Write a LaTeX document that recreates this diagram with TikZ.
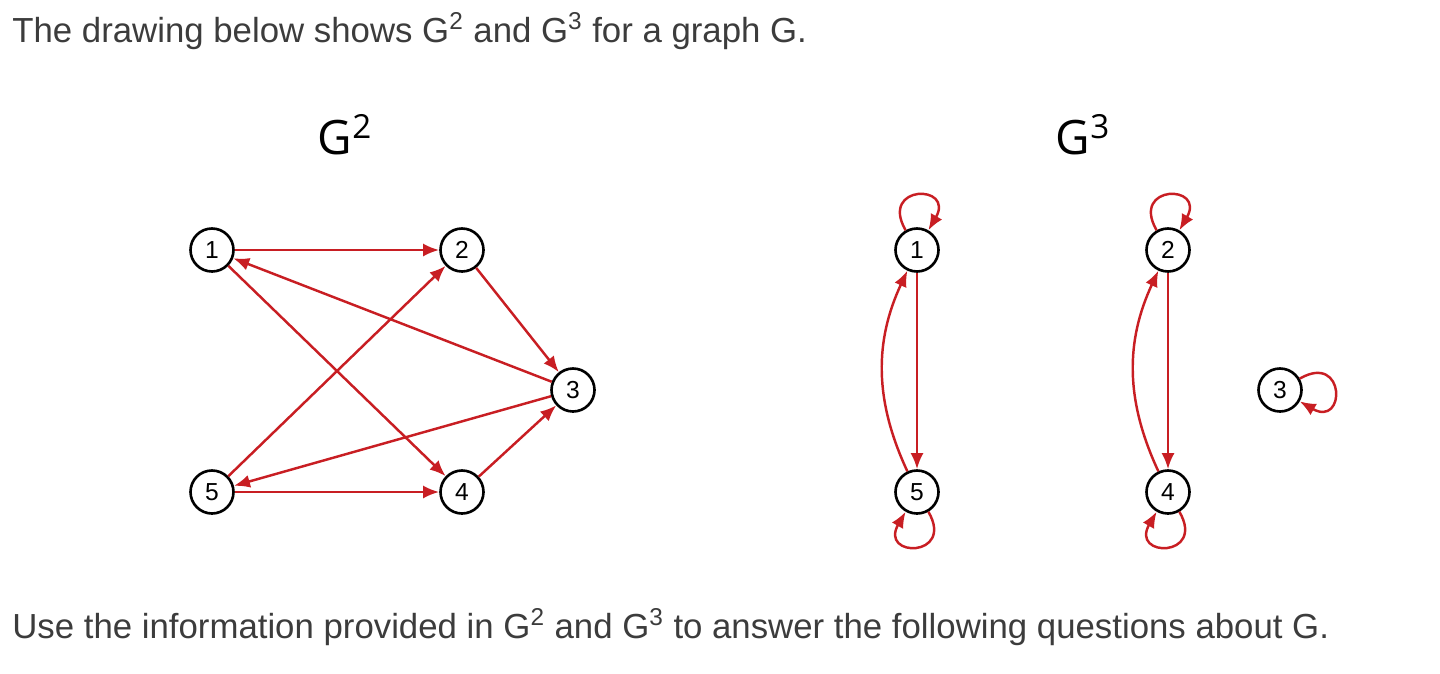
\documentclass[tikz,border=0pt]{standalone}
\usepackage{fontspec}
\setmainfont{Liberation Sans}
\newfontfamily\titlefont{Open Sans}
\usetikzlibrary{arrows.meta}
\definecolor{ered}{RGB}{200,30,35}
\definecolor{txt}{RGB}{60,60,60}
\tikzset{
 vert/.style={circle,draw=black,line width=1.5pt,minimum size=0.86cm,inner sep=0pt,font=\fontsize{14}{14}\selectfont,fill=white},
 edge/.style={ered,line width=1.4pt,-{Latex[length=3.2mm,width=2.6mm]}},
 title/.style={font=\titlefont\fontsize{27}{27}\selectfont,text=black},
 para/.style={anchor=west,font=\fontsize{19.8}{21}\selectfont,text=txt,inner sep=0pt}
}
\begin{document}
\begin{tikzpicture}[x=0.02cm,y=-0.02cm]
\useasboundingbox (0,0) rectangle (1440,673);
\node[para] (t1) at (12,31) {The drawing below shows G\textsuperscript{2} and G\textsuperscript{3} for a graph G.};
\node[para] (t2) at (12,627) {Use the information provided in G\textsuperscript{2} and G\textsuperscript{3} to answer the following questions about G.};
\node[title] (h2) at (345,135) {G\textsuperscript{2}};
\node[title] (h3) at (1083,135) {G\textsuperscript{3}};
% G^2
\node[vert] (a1) at (212,250) {1};
\node[vert] (a2) at (462,250) {2};
\node[vert] (a3) at (573,390) {3};
\node[vert] (a4) at (462,492) {4};
\node[vert] (a5) at (212,492) {5};
\draw[edge] (a1) -- (a2);
\draw[edge] (a2) -- (a3);
\draw[edge] (a3) -- (a1);
\draw[edge] (a1) -- (a4);
\draw[edge] (a5) -- (a2);
\draw[edge] (a3) -- (a5);
\draw[edge] (a5) -- (a4);
\draw[edge] (a4) -- (a3);
% G^3
\node[vert] (b1) at (917,250) {1};
\node[vert] (b5) at (917,492) {5};
\node[vert] (b2) at (1168,250) {2};
\node[vert] (b4) at (1168,492) {4};
\node[vert] (b3) at (1280,390) {3};
\draw[edge] (b1) -- (b5);
\draw[edge] (b5) to[bend left=25] (b1);
\draw[edge] (b2) -- (b4);
\draw[edge] (b4) to[bend left=25] (b2);
\draw[edge] (b1) to[out=120,in=60,looseness=6] (b1);
\draw[edge] (b2) to[out=120,in=60,looseness=6] (b2);
\draw[edge] (b5) to[out=-60,in=-120,looseness=6] (b5);
\draw[edge] (b4) to[out=-60,in=-120,looseness=6] (b4);
\draw[edge] (b3) to[out=30,in=-30,looseness=6] (b3);
\end{tikzpicture}
\end{document}
